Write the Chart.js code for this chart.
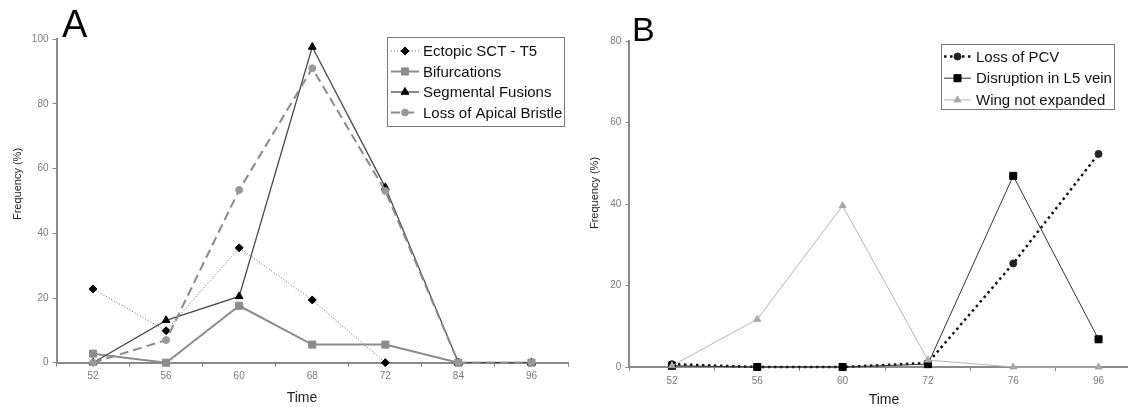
<!DOCTYPE html>
<html><head><meta charset="utf-8">
<script src="https://cdn.jsdelivr.net/npm/chart.js@4.4.1/dist/chart.umd.min.js"></script>
<style>
html,body{margin:0;padding:0;background:#fff;width:1128px;height:407px;overflow:hidden;position:relative}
#ca{position:absolute;left:0;top:0}
#cb{position:absolute;left:560px;top:0}
</style></head><body>
<canvas id="ca" width="580" height="407"></canvas>
<canvas id="cb" width="600" height="407"></canvas>
<script>
// ---- Panel A data ----
const timesA = ['52','56','60','68','72','84','96'];
const ectopicSCT = [22.8, 9.9, 35.5, 19.4, 0, null, null];
const bifurcations = [2.8, 0, 17.6, 5.6, 5.6, 0, 0];
const segmentalFusions = [0, 13.1, 20.5, 97.6, 54.2, 0, 0];
const lossApicalBristle = [0, 7.0, 53.4, 91.0, 53.1, 0, 0];
const yMaxA = 100;
// ---- Panel B data ----
const timesB = ['52','56','60','72','76','96'];
const lossPCV = [0.7, 0, 0, 1.0, 25.4, 52.3];
const disruptionL5 = [0.3, 0, 0, 0.7, 46.9, 6.8];
const wingNotExpanded = [0.3, 11.7, 39.6, 1.7, 0, 0];
const yMaxB = 80;
const yStep = 20;

const FONT = "'Liberation Sans', Arial, 'DejaVu Sans', sans-serif";

function drawMarker(ctx, ds, x, y) {
  ctx.save();
  ctx.fillStyle = ds.pointBackgroundColor;
  ctx.strokeStyle = ds.pointBorderColor;
  ctx.lineWidth = 1;
  ctx.setLineDash([]);
  if (Chart.helpers && Chart.helpers.drawPoint) {
    Chart.helpers.drawPoint(ctx, {pointStyle: ds.pointStyle, radius: ds.pointRadius, rotation: 0, borderWidth: 1}, x, y);
  }
  ctx.restore();
}

const boxLegend = {
  id: 'boxLegend',
  afterDraw(chart, args, o) {
    const ctx = chart.ctx;
    ctx.save();
    ctx.fillStyle = '#fff';
    ctx.fillRect(o.x, o.y, o.w, o.h);
    ctx.strokeStyle = '#777';
    ctx.lineWidth = 1;
    ctx.strokeRect(o.x + 0.5, o.y + 0.5, o.w, o.h);
    ctx.font = o.font + 'px ' + FONT;
    ctx.textBaseline = 'middle';
    chart.data.datasets.forEach((ds, i) => {
      const cy = o.y + o.first + i * o.row;
      ctx.save();
      ctx.strokeStyle = ds.borderColor;
      ctx.lineWidth = ds.borderWidth;
      ctx.setLineDash(ds.borderDash || []);
      ctx.beginPath();
      ctx.moveTo(o.s1, cy); ctx.lineTo(o.s2, cy); ctx.stroke();
      ctx.restore();
      drawMarker(ctx, ds, (o.s1 + o.s2) / 2, cy);
      ctx.fillStyle = '#111';
      ctx.fillText(ds.label, o.tx, cy + 1);
    });
    ctx.restore();
  }
};

const texts = {
  id: 'texts',
  afterDraw(chart, args, o) {
    const ctx = chart.ctx;
    ctx.save();
    (o.items || []).forEach(t => {
      ctx.save();
      ctx.font = t.size + 'px ' + FONT;
      ctx.fillStyle = t.color || '#111';
      ctx.textAlign = t.align || 'center';
      ctx.textBaseline = t.base || 'middle';
      ctx.translate(t.x, t.y);
      if (t.rot) ctx.rotate(t.rot);
      ctx.fillText(t.text, 0, 0);
      ctx.restore();
    });
    ctx.restore();
  }
};

function makeScales(max, leftW, bottomH) {
  return {
    x: {
      type: 'category', offset: true,
      grid: {display: true, drawOnChartArea: false, drawTicks: true, tickLength: 4, offset: true, color: '#888', lineWidth: 1},
      border: {display: true, color: '#8a8a8a', width: 2},
      ticks: {font: {family: FONT, size: 10}, color: '#7a7a7a', padding: 4, maxRotation: 0, autoSkip: false},
      afterFit: s => { s.height = bottomH; }
    },
    y: {
      min: 0, max: max,
      grid: {display: true, drawOnChartArea: false, drawTicks: true, tickLength: 4, color: '#888', lineWidth: 1},
      border: {display: true, color: '#8a8a8a', width: 2},
      ticks: {stepSize: yStep, font: {family: FONT, size: 10}, color: '#7a7a7a', padding: 4},
      afterFit: s => { s.width = leftW; }
    }
  };
}

function ds(label, data, o, n, i) {
  return Object.assign({
    label, data, order: n - 1 - i, clip: false, spanGaps: false, tension: 0,
    pointBorderWidth: 1, pointHoverRadius: 4
  }, o);
}

new Chart(document.getElementById('ca'), {
  type: 'line',
  data: {
    labels: timesA,
    datasets: [
      ds('Ectopic SCT - T5', ectopicSCT, {borderColor: '#666', borderWidth: 1, borderDash: [1, 2], pointStyle: 'rectRot', pointRadius: 4, pointBackgroundColor: '#000', pointBorderColor: '#000'}, 4, 0),
      ds('Bifurcations', bifurcations, {borderColor: '#8c8c8c', borderWidth: 2, pointStyle: 'rect', pointRadius: 5, pointBackgroundColor: '#8c8c8c', pointBorderColor: '#8c8c8c'}, 4, 1),
      ds('Segmental Fusions', segmentalFusions, {borderColor: '#4a4a4a', borderWidth: 1.3, pointStyle: 'triangle', pointRadius: 4.5, pointBackgroundColor: '#000', pointBorderColor: '#000'}, 4, 2),
      ds('Loss of Apical Bristle', lossApicalBristle, {borderColor: '#8a8a8a', borderWidth: 2, borderDash: [9, 5], pointStyle: 'circle', pointRadius: 3.5, pointBackgroundColor: '#999', pointBorderColor: '#999'}, 4, 3)
    ]
  },
  options: {
    responsive: false, animation: false, devicePixelRatio: 1,
    layout: {padding: {left: 0, top: 39.2, right: 12, bottom: 0}},
    scales: makeScales(yMaxA, 56.5, 44.3),
    plugins: {
      legend: {display: false}, tooltip: {enabled: false},
      boxLegend: {x: 387, y: 37, w: 177, h: 89, first: 14, row: 20.5, s1: 391, s2: 419, tx: 423, font: 15},
      texts: {items: [
        {text: 'A', x: 62, y: 37, size: 38, align: 'left', base: 'alphabetic', color: '#000'},
        {text: 'Time', x: 302, y: 398, size: 14, color: '#222'},
        {text: 'Frequency (%)', x: 18, y: 184, size: 11, rot: -Math.PI / 2, color: '#222'}
      ]}
    }
  },
  plugins: [boxLegend, texts]
});

new Chart(document.getElementById('cb'), {
  type: 'line',
  data: {
    labels: timesB,
    datasets: [
      ds('Loss of PCV', lossPCV, {borderColor: '#111', borderWidth: 2.5, borderDash: [2.5, 3.5], pointStyle: 'circle', pointRadius: 3.5, pointBackgroundColor: '#222', pointBorderColor: '#222'}, 3, 0),
      ds('Disruption in L5 vein', disruptionL5, {borderColor: '#333', borderWidth: 1, pointStyle: 'rect', pointRadius: 5, pointBackgroundColor: '#000', pointBorderColor: '#000'}, 3, 1),
      ds('Wing not expanded', wingNotExpanded, {borderColor: '#b5b5b5', borderWidth: 1, pointStyle: 'triangle', pointRadius: 4, pointBackgroundColor: '#a8a8a8', pointBorderColor: '#a8a8a8'}, 3, 2)
    ]
  },
  options: {
    responsive: false, animation: false, devicePixelRatio: 1,
    layout: {padding: {left: 0, top: 41, right: 18.8, bottom: 0}},
    scales: makeScales(yMaxB, 69.3, 40),
    plugins: {
      legend: {display: false}, tooltip: {enabled: false},
      boxLegend: {x: 381, y: 44, w: 173, h: 65, first: 12.5, row: 21.7, s1: 384, s2: 411, tx: 416, font: 15},
      texts: {items: [
        {text: 'B', x: 72, y: 41, size: 34, align: 'left', base: 'alphabetic', color: '#000'},
        {text: 'Time', x: 324, y: 400, size: 14, color: '#222'},
        {text: 'Frequency (%)', x: 35, y: 193, size: 11, rot: -Math.PI / 2, color: '#222'}
      ]}
    }
  },
  plugins: [boxLegend, texts]
});
</script>
</body></html>
